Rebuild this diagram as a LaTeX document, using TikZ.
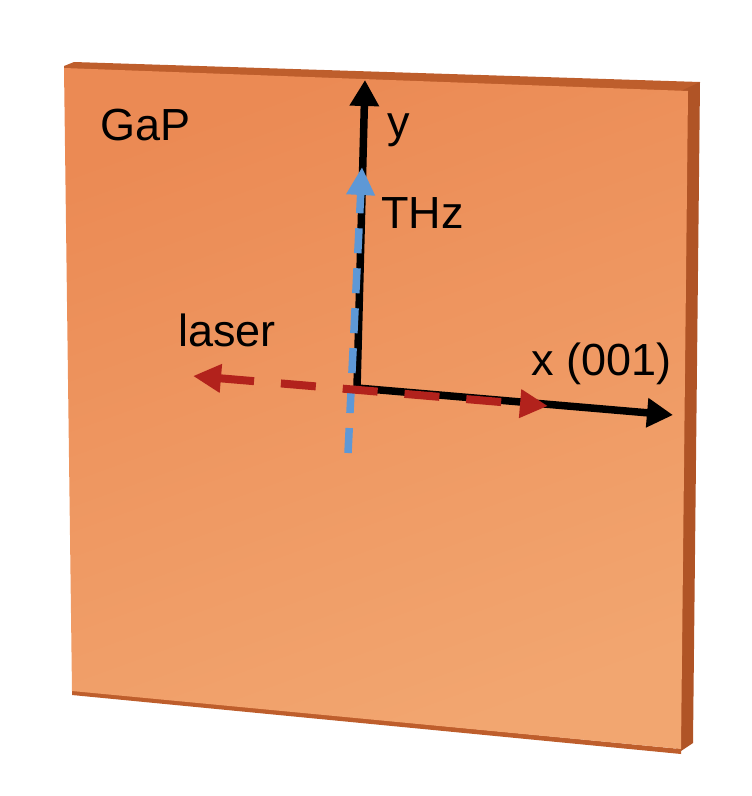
\documentclass[tikz,border=0pt]{standalone}
\usepackage{fontspec}
\setmainfont{Liberation Sans}
\usetikzlibrary{arrows.meta}
\definecolor{facetop}{RGB}{235,138,84}
\definecolor{facebot}{RGB}{242,166,112}
\definecolor{edgedark}{RGB}{190,94,44}
\definecolor{edgeside}{RGB}{176,84,38}
\definecolor{thzblue}{RGB}{94,152,214}
\definecolor{laserred}{RGB}{178,34,28}
\tikzset{
  lbl/.style={font=\fontsize{45}{50}\selectfont, inner sep=0pt, anchor=base west},
  axis/.style={line width=7.5pt, black, -{Triangle[length=26pt,width=28pt]}},
  thz/.style={line width=7.5pt, thzblue, dash pattern=on 25pt off 15pt, -{Triangle[length=28pt,width=27pt]}},
  laser/.style={line width=8pt, laserred, dash pattern=on 35pt off 27pt, {Triangle[length=28pt,width=27pt]}-{Triangle[length=28pt,width=27pt]}}
}
\begin{document}
\begin{tikzpicture}[x=1pt,y=-1pt]
\useasboundingbox (0,0) rectangle (752,796);
% slab
\fill[edgedark] (64,66) -- (74,62) -- (700,82) -- (688,92) -- (64,70) -- cycle;
\fill[edgeside] (683,90) -- (700,82) -- (693,743) -- (681,751) -- (676,749) -- cycle;
\fill[edgedark] (72,690) -- (681,749) -- (681,754) -- (72,695) -- cycle;
\shade[top color=facetop, bottom color=facebot, shading angle=20]
  (64,68) -- (688,91) -- (681,749) -- (72,691) -- cycle;
% coordinates
\coordinate (O) at (357,388);
\coordinate (ytip) at (365,80);
\coordinate (xtip) at (673,415);
\coordinate (thzs) at (348,453);
\coordinate (thzt) at (362,167);
\coordinate (ll) at (193,376);
\coordinate (lr) at (548,406);
% axes
\draw[axis] (O) -- (ytip);
\draw[axis] (O) -- (xtip);
\draw[thz] (thzs) -- (thzt);
\draw[laser] (ll) -- (lr);
% labels
\node[lbl] (gap) at (100,140) {GaP};
\node[lbl] (ylab) at (387,137) {y};
\node[lbl] (thzlab) at (381,228) {THz};
\node[lbl] (laserlab) at (178,346) {laser};
\node[lbl] (xlab) at (531,375) {x (001)};
\end{tikzpicture}
\end{document}
